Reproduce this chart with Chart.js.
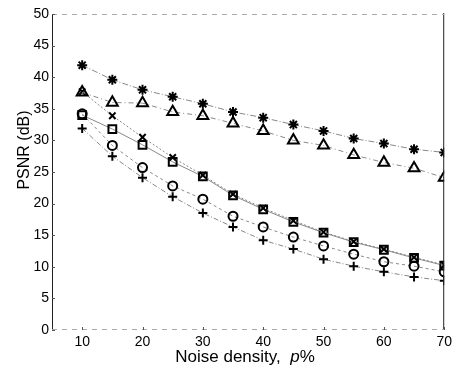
<!DOCTYPE html>
<html>
<head>
<meta charset="utf-8">
<script src="https://cdn.jsdelivr.net/npm/chart.js@4.4.1/dist/chart.umd.min.js"></script>
<style>
html,body{margin:0;padding:0;background:#fff;}
#wrap{width:456px;height:365px;}
</style>
</head>
<body>
<div id="wrap"><canvas id="c" width="456" height="365"></canvas></div>
<script>
const noiseDensity = [10,15,20,25,30,35,40,45,50,55,60,65,70];
const xTickLabels = [10,20,30,40,50,60,70];
const yTickLabels = [0,5,10,15,20,25,30,35,40,45,50];
const seriesStar     = [41.9,39.6,38.0,36.9,35.8,34.5,33.6,32.5,31.5,30.3,29.5,28.6,28.1];
const seriesTriangle = [37.6,36.0,35.9,34.5,33.9,32.7,31.5,30.0,29.2,27.7,26.5,25.6,24.1];
const seriesCross    = [37.7,33.9,30.5,27.3,24.5,21.5,19.3,17.3,15.5,14.0,12.8,11.5,10.3];
const seriesSquare   = [34.0,31.8,29.3,26.6,24.3,21.3,19.1,17.1,15.4,13.9,12.7,11.4,10.2];
const seriesCircle   = [34.2,29.2,25.7,22.8,20.7,18.0,16.3,14.7,13.3,12.0,10.8,10.1,9.2];
const seriesPlus     = [31.9,27.5,24.1,21.1,18.5,16.3,14.2,12.8,11.2,10.1,9.2,8.4,7.8];

const FONT = '"Liberation Sans", Arial, Helvetica, sans-serif';

function mk(vals, style, radius, dash, bw){
  return {
    data: noiseDensity.map((x,i)=>({x:x, y:vals[i]})),
    borderColor:'#888',
    borderWidth:1,
    borderDash:dash,
    pointStyle:style,
    pointRadius:radius,
    pointBorderColor:'#000',
    pointBackgroundColor:'rgba(255,255,255,0)',
    pointBorderWidth:bw,
    fill:false,
    tension:0
  };
}

const deco = {
  id:'deco',
  afterDraw(chart){
    const {ctx, chartArea:a, scales:{x,y}} = chart;
    ctx.save();
    ctx.strokeStyle='#222'; ctx.lineWidth=1;
    ctx.beginPath(); ctx.moveTo(a.left+0.5,a.top); ctx.lineTo(a.left+0.5,a.bottom); ctx.stroke();
    ctx.beginPath(); ctx.moveTo(a.right-0.5,a.top-1); ctx.lineTo(a.right-0.5,a.bottom); ctx.stroke();
    ctx.strokeStyle='#aaa'; ctx.setLineDash([5,5]);
    ctx.beginPath(); ctx.moveTo(a.left,a.top+0.5); ctx.lineTo(a.right,a.top+0.5); ctx.stroke();
    ctx.beginPath(); ctx.moveTo(a.left,a.bottom-0.5); ctx.lineTo(a.right,a.bottom-0.5); ctx.stroke();
    ctx.setLineDash([]);
    ctx.strokeStyle='#555';
    yTickLabels.forEach(v=>{
      const py = Math.round(y.getPixelForValue(v))+0.5;
      ctx.beginPath(); ctx.moveTo(a.left,py); ctx.lineTo(a.left+3,py); ctx.stroke();
    });
    xTickLabels.forEach(v=>{
      const px = Math.round(x.getPixelForValue(v))+0.5;
      ctx.beginPath(); ctx.moveTo(px,a.bottom); ctx.lineTo(px,a.bottom-3); ctx.stroke();
    });
    // x title with italic p
    ctx.fillStyle='#000';
    ctx.textBaseline='alphabetic';
    const part1='Noise density,  ', part2='p', part3='%';
    ctx.font='17px '+FONT;
    const w1=ctx.measureText(part1).width, w3=ctx.measureText(part3).width;
    ctx.font='italic 17px '+FONT;
    const w2=ctx.measureText(part2).width;
    let sx = 245 - (w1+w2+w3)/2;
    const by = 362;
    ctx.font='17px '+FONT; ctx.textAlign='left';
    ctx.fillText(part1,sx,by);
    ctx.font='italic 17px '+FONT; ctx.fillText(part2,sx+w1,by);
    ctx.font='17px '+FONT; ctx.fillText(part3,sx+w1+w2,by);
    // y title
    ctx.translate(25,150);
    ctx.rotate(-Math.PI/2);
    ctx.textAlign='center'; ctx.textBaseline='middle';
    ctx.font='16px '+FONT;
    ctx.fillText('PSNR (dB)',0,0);
    ctx.restore();
  }
};

new Chart(document.getElementById('c'),{
  type:'line',
  data:{
    datasets:[
      mk(seriesStar,'star',5,[6,2,1,2],2),
      mk(seriesTriangle,'triangle',6.3,[5,3,1,3],2),
      mk(seriesCross,'crossRot',4.5,[2,2],2),
      mk(seriesSquare,'rect',5.5,[],2),
      mk(seriesCircle,'circle',4.5,[3,3],2),
      mk(seriesPlus,'cross',4.5,[5,2,1,2],2)
    ]
  },
  options:{
    responsive:false,
    animation:false,
    events:[],
    layout:{padding:{left:0,right:8,top:14,bottom:0}},
    plugins:{legend:{display:false},tooltip:{enabled:false},title:{display:false}},
    scales:{
      x:{
        type:'linear', min:5, max:70,
        afterBuildTicks:s=>{ s.ticks = xTickLabels.map(v=>({value:v})); },
        afterFit:s=>{ s.height = 35; },
        grid:{display:false, drawTicks:false},
        border:{display:false},
        ticks:{color:'#000', font:{family:FONT,size:14}, padding:4, maxRotation:0, autoSkip:false}
      },
      y:{
        type:'linear', min:0, max:50,
        afterBuildTicks:s=>{ s.ticks = yTickLabels.map(v=>({value:v})); },
        afterFit:s=>{ s.width = 52; },
        grid:{display:false, drawTicks:false},
        border:{display:false},
        ticks:{color:'#000', font:{family:FONT,size:14}, padding:3, autoSkip:false}
      }
    }
  },
  plugins:[deco]
});
</script>
</body>
</html>
